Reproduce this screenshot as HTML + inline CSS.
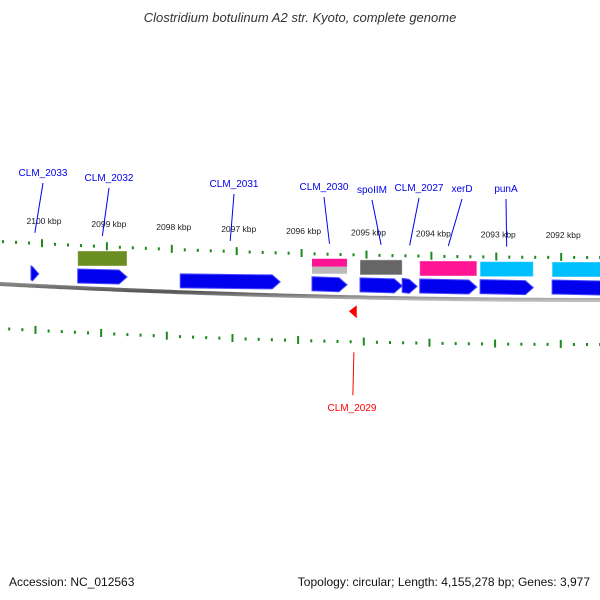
<!DOCTYPE html>
<html><head><meta charset="utf-8"><style>
body{margin:0;background:#fff;width:600px;height:600px;overflow:hidden;font-family:"Liberation Sans","DejaVu Sans",sans-serif}
svg{display:block}
</style></head><body>
<svg id="c" width="600" height="600" viewBox="0 0 600 600">
<defs>
<linearGradient id="bb" x1="0" y1="0" x2="0" y2="1"><stop offset="0" stop-color="#888"/><stop offset="0.5" stop-color="#555"/><stop offset="1" stop-color="#bbb"/></linearGradient>
</defs>
<text x="300" y="22" text-anchor="middle" font-size="13" font-style="italic" fill="#333">Clostridium botulinum A2 str. Kyoto, complete genome</text>
<text x="9" y="586" font-size="12" fill="#111">Accession: NC_012563</text>
<text x="590" y="586" text-anchor="end" font-size="12" fill="#111">Topology: circular; Length: 4,155,278 bp; Genes: 3,977</text>
<g id="g"></g>
</svg>
<script>
// data
const majorKbp = [2100, 2099, 2098, 2097, 2096, 2095, 2094, 2093, 2092];
const geneNames = ["CLM_2033","CLM_2032","CLM_2031","CLM_2030","spoIIM","CLM_2027","xerD","punA","CLM_2026","CLM_2029"];
const geneStart = [2100.17, 2099.45, 2097.87, 2095.84, 2095.10, 2094.45, 2094.18, 2093.25, 2092.14, 2095.27];
const geneEnd   = [2100.05, 2098.69, 2096.33, 2095.30, 2094.45, 2094.22, 2093.30, 2092.43, 2091.25, 2095.15];
const geneStrand= [1,1,1,1,1,1,1,1,1,-1];
const boxColor  = [null,"#6b8e23",null,"pink","#666",null,"#ff1493","#00bfff","#00bfff",null];
const labelShown= [1,1,1,1,1,1,1,1,0,1];
// label layout (pixels, style only)
const labelX = [43,109,234,324,372,419,462,506,0,352];
const labelY = [176,181,187,190,193,191,192,192,0,408];

const NS="http://www.w3.org/2000/svg";
const g=document.getElementById('g');
function X(k){return 42+(2100-k)*64.9;}
function base(x){return 300-4.44e-5*Math.pow(600-Math.min(x,600),2);}
function mk(t,a){const e=document.createElementNS(NS,t);for(const k in a)e.setAttribute(k,a[k]);g.appendChild(e);return e;}

let d="";for(let x=-5;x<=605;x+=5){d+=(x==-5?"M":"L")+x+","+base(x).toFixed(1);}
let bbl=mk('path',{d:d,stroke:'url(#bb)','stroke-width':4,fill:'none'});



for(let k=2100.6;k>=2091.0;k-=0.2){
  const kr=Math.round(k*5)/5;
  const major=Math.abs(kr-Math.round(kr))<0.01;
  const x=X(kr);
  if(x<-2||x>602)continue;
  const yu=base(x)-43;
  let t=mk('rect',{x:x-1,y:major?yu-4:yu-1,width:2,height:major?8:3,fill:'#1a8a1a'});
  
  
  const xl=x-7*(1-x/600);
  const yl=base(xl)+44;
  let t2=mk('rect',{x:xl-1,y:major?yl-4:yl-1,width:2,height:major?8:3,fill:'#1a8a1a'});
  
  
}
majorKbp.forEach(k=>{
  const x=X(k);
  let t=mk('text',{x:x+2,y:base(x)-62,'text-anchor':'middle','font-size':8.5,fill:'#222'});
  t.textContent=k+' kbp';
  
  
});

geneNames.forEach((n,i)=>{
  let x1=X(geneStart[i]),x2=X(geneEnd[i]);
  const xa=Math.min(x1,x2),xb=Math.max(x1,x2);
  const cx=(xa+xb)/2;
  const bm=base(cx);
  if(geneStrand[i]>0){
    const top=bm-20,h=14,hl=Math.min(8,(xb-xa)*0.8);
    let p=mk('path',{d:`M${xa},${top} L${xb-hl},${top+1} L${xb},${top+h/2+1} L${xb-hl},${top+h+1} L${xa},${top+h} Z`,fill:'#0000ee',stroke:'#4a4aff','stroke-width':1});
    
    
    if(boxColor[i]){
      const by=bm-38;
      if(boxColor[i]==='pink'){
        let r=mk('rect',{x:xa,y:by,width:xb-xa,height:8,fill:'#ff1493'});
        
        
        let r2=mk('rect',{x:xa,y:by+8,width:xb-xa,height:7,fill:'#bbb'});
        
        
      } else {
        let r=mk('rect',{x:xa,y:by,width:xb-xa,height:15,fill:boxColor[i],stroke:'rgba(255,255,255,0.4)','stroke-width':1});
        
        
      }
    }
    if(labelShown[i]){
      const tx=labelX[i],ty=labelY[i];
      let l=mk('line',{x1:tx,y1:ty+7,x2:cx,y2:bm-53,stroke:'#0000ee','stroke-width':1});
      
      
      let t=mk('text',{x:tx,y:ty,'text-anchor':'middle','font-size':10,fill:'#0000ee'});
      t.textContent=n;
      
      
    }
  } else {
    const top=bm+8;
    let p=mk('path',{d:`M${xa},${top+6} L${xb},${top} L${xb},${top+13} Z`,fill:'#ff0000'});
    
    
    let l=mk('line',{x1:cx+1,y1:bm+55,x2:cx,y2:bm+98,stroke:'#ff0000','stroke-width':1});
    
    
    let t=mk('text',{x:labelX[i],y:labelY[i]+3,'text-anchor':'middle','font-size':10,fill:'#ff0000'});
    t.textContent=n;
    
    
  }
});
</script>
</body></html>
